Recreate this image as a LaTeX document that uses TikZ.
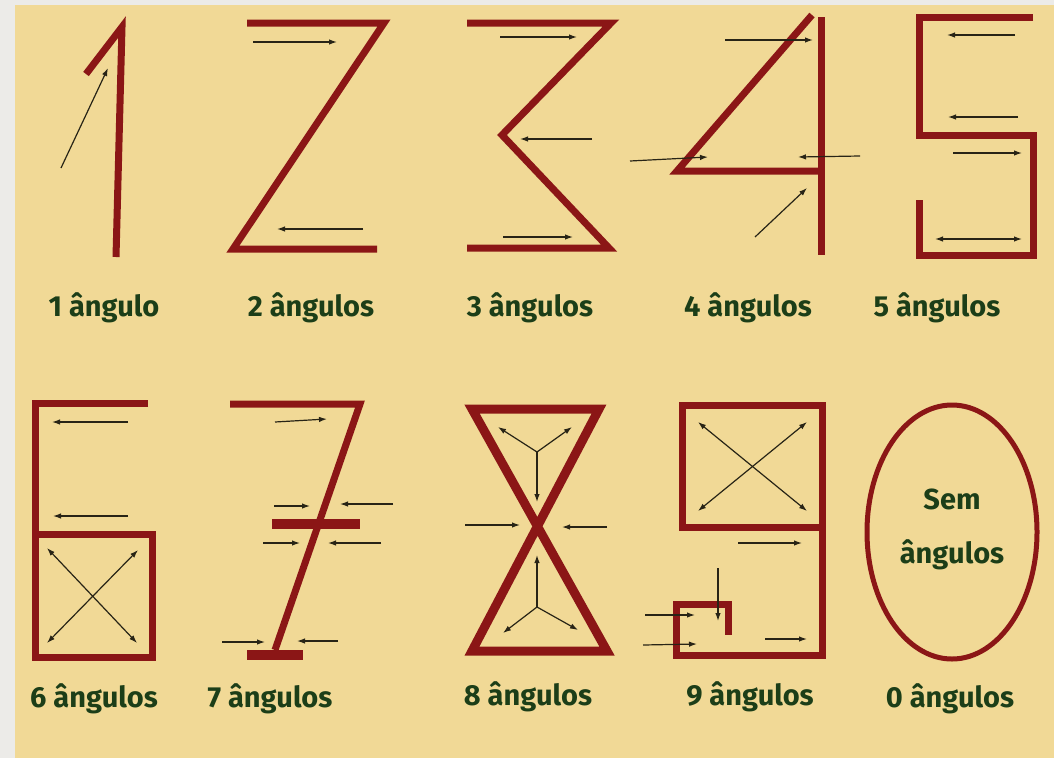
\documentclass[tikz,border=0pt]{standalone}
\usepackage{fontspec}
\setmainfont{Fira Sans}
\usetikzlibrary{arrows.meta}
\definecolor{bg}{RGB}{241,217,150}
\definecolor{edgecol}{RGB}{236,235,232}
\definecolor{digitred}{RGB}{139,22,22}
\definecolor{labgreen}{RGB}{28,62,24}
\definecolor{arrcol}{RGB}{40,36,22}
\tikzset{
  stroke/.style={draw=digitred, line width=7pt, line join=miter, line cap=butt},
  bar/.style={draw=digitred, line width=10pt, line cap=butt},
  arrowline/.style={draw=arrcol, line width=1.2pt, -{Latex[length=8pt,width=5.5pt]}},
  darrow/.style={draw=arrcol, line width=1.2pt, {Latex[length=8pt,width=5.5pt]}-{Latex[length=8pt,width=5.5pt]}},
  labeltext/.style={text=labgreen, font=\bfseries\fontsize{29}{32}\selectfont, anchor=base, inner sep=0pt},
}
\begin{document}
\begin{tikzpicture}[x=1pt,y=-1pt]
\useasboundingbox (0,0) rectangle (1054,758);
\fill[edgecol] (0,0) rectangle (1054,758);
\fill[bg] (15,5) rectangle (1054,758);

% ---------- digit 1 ----------
\draw[stroke] (86,74) -- (122,27) -- (116,257);
\coordinate (a1s) at (61,168); \coordinate (a1e) at (108,68);
\draw[arrowline] (a1s) -- (a1e);
\node[labeltext] (l1) at (104,316) {1 ângulo};

% ---------- digit 2 ----------
\draw[stroke] (247,23) -- (384,23) -- (233,249) -- (377,249);
\coordinate (a2as) at (253,42); \coordinate (a2ae) at (337,42);
\coordinate (a2bs) at (363,229); \coordinate (a2be) at (277,229);
\draw[arrowline] (a2as) -- (a2ae);
\draw[arrowline] (a2bs) -- (a2be);
\node[labeltext] (l2) at (311,316) {2 ângulos};

% ---------- digit 3 ----------
\draw[stroke] (467,23) -- (611,23) -- (502,135) -- (609,248) -- (467,248);
\coordinate (a3as) at (500,37); \coordinate (a3ae) at (577,37);
\coordinate (a3bs) at (592,139); \coordinate (a3be) at (520,139);
\coordinate (a3cs) at (503,237); \coordinate (a3ce) at (573,237);
\draw[arrowline] (a3as) -- (a3ae);
\draw[arrowline] (a3bs) -- (a3be);
\draw[arrowline] (a3cs) -- (a3ce);
\node[labeltext] (l3) at (530,316) {3 ângulos};

% ---------- digit 4 ----------
\draw[stroke] (812,15) -- (677,171) -- (821,171);
\draw[stroke] (821,17) -- (821,255);
\coordinate (a4as) at (725,40); \coordinate (a4ae) at (813,40);
\coordinate (a4bs) at (630,161); \coordinate (a4be) at (708,157);
\coordinate (a4cs) at (860,156); \coordinate (a4ce) at (798,157);
\coordinate (a4ds) at (755,237); \coordinate (a4de) at (807,188);
\draw[arrowline] (a4as) -- (a4ae);
\draw[arrowline] (a4bs) -- (a4be);
\draw[arrowline] (a4cs) -- (a4ce);
\draw[arrowline] (a4ds) -- (a4de);
\node[labeltext] (l4) at (748,316) {4 ângulos};

% ---------- digit 5 ----------
\draw[stroke] (1033,17) -- (919,17) -- (919,135) -- (1033,135) -- (1033,255) -- (919,255) -- (919,200);
\coordinate (a5as) at (1015,35); \coordinate (a5ae) at (947,35);
\coordinate (a5bs) at (1018,117); \coordinate (a5be) at (948,117);
\coordinate (a5cs) at (953,153); \coordinate (a5ce) at (1022,153);
\coordinate (a5ds) at (935,239); \coordinate (a5de) at (1022,239);
\draw[arrowline] (a5as) -- (a5ae);
\draw[arrowline] (a5bs) -- (a5be);
\draw[arrowline] (a5cs) -- (a5ce);
\draw[darrow] (a5ds) -- (a5de);
\node[labeltext] (l5) at (937,316) {5 ângulos};

% ---------- digit 6 ----------
\draw[stroke] (148,403) -- (35,403) -- (35,657) -- (152,657) -- (152,534) -- (35,534);
\coordinate (a6as) at (128,422); \coordinate (a6ae) at (52,422);
\coordinate (a6bs) at (128,516); \coordinate (a6be) at (53,516);
\coordinate (a6cs) at (47,548); \coordinate (a6ce) at (137,643);
\coordinate (a6ds) at (138,550); \coordinate (a6de) at (47,643);
\draw[arrowline] (a6as) -- (a6ae);
\draw[arrowline] (a6bs) -- (a6be);
\draw[darrow] (a6cs) -- (a6ce);
\draw[darrow] (a6ds) -- (a6de);
\node[labeltext] (l6) at (94,707) {6 ângulos};

% ---------- digit 7 ----------
\draw[stroke] (230,404) -- (360,404) -- (275,650);
\draw[bar] (272,524) -- (360,524);
\draw[bar] (247,655) -- (303,655);
\coordinate (a7as) at (275,422); \coordinate (a7ae) at (327,419);
\coordinate (a7bs) at (274,506); \coordinate (a7be) at (310,506);
\coordinate (a7cs) at (393,504); \coordinate (a7ce) at (340,504);
\coordinate (a7ds) at (263,543); \coordinate (a7de) at (300,543);
\coordinate (a7es) at (381,543); \coordinate (a7ee) at (328,543);
\coordinate (a7fs) at (222,642); \coordinate (a7fe) at (265,642);
\coordinate (a7gs) at (338,641); \coordinate (a7ge) at (297,641);
\draw[arrowline] (a7as) -- (a7ae);
\draw[arrowline] (a7bs) -- (a7be);
\draw[arrowline] (a7cs) -- (a7ce);
\draw[arrowline] (a7ds) -- (a7de);
\draw[arrowline] (a7es) -- (a7ee);
\draw[arrowline] (a7fs) -- (a7fe);
\draw[arrowline] (a7gs) -- (a7ge);
\node[labeltext] (l7) at (270,707) {7 ângulos};

% ---------- digit 8 ----------
\draw[stroke, line width=9pt] (472,409) -- (599,409) -- (472,651) -- (607,651) -- cycle;
\coordinate (y8a) at (537,452);
\coordinate (y8a1) at (498,427); \coordinate (y8a2) at (572,427); \coordinate (y8a3) at (537,502);
\coordinate (y8b) at (537,607);
\coordinate (y8b1) at (537,555); \coordinate (y8b2) at (503,633); \coordinate (y8b3) at (578,630);
\draw[arrowline] (y8a) -- (y8a1);
\draw[arrowline] (y8a) -- (y8a2);
\draw[arrowline] (y8a) -- (y8a3);
\draw[arrowline] (y8b) -- (y8b1);
\draw[arrowline] (y8b) -- (y8b2);
\draw[arrowline] (y8b) -- (y8b3);
\coordinate (a8as) at (465,525); \coordinate (a8ae) at (520,525);
\coordinate (a8bs) at (607,527); \coordinate (a8be) at (562,527);
\draw[arrowline] (a8as) -- (a8ae);
\draw[arrowline] (a8bs) -- (a8be);
\node[labeltext] (l8) at (528,705) {8 ângulos};

% ---------- digit 9 ----------
\draw[stroke] (822,527) -- (682,527) -- (682,405) -- (822,405) -- (822,655) -- (676,655) -- (676,604) -- (728,604) -- (728,635);
\coordinate (a9as) at (698,422); \coordinate (a9ae) at (807,511);
\coordinate (a9bs) at (807,422); \coordinate (a9be) at (698,511);
\draw[darrow] (a9as) -- (a9ae);
\draw[darrow] (a9bs) -- (a9be);
\coordinate (a9cs) at (738,543); \coordinate (a9ce) at (802,543);
\coordinate (a9ds) at (718,568); \coordinate (a9de) at (718,621);
\coordinate (a9es) at (645,615); \coordinate (a9ee) at (695,615);
\coordinate (a9fs) at (643,645); \coordinate (a9fe) at (697,644);
\coordinate (a9gs) at (765,639); \coordinate (a9ge) at (807,639);
\draw[arrowline] (a9cs) -- (a9ce);
\draw[arrowline] (a9ds) -- (a9de);
\draw[arrowline] (a9es) -- (a9ee);
\draw[arrowline] (a9fs) -- (a9fe);
\draw[arrowline] (a9gs) -- (a9ge);
\node[labeltext] (l9) at (750,705) {9 ângulos};

% ---------- digit 0 ----------
\draw[draw=digitred, line width=5pt] (952,532) ellipse [x radius=85, y radius=127];
\node[labeltext] (sem) at (952,509) {Sem};
\node[labeltext] (semang) at (952,563) {ângulos};
\node[labeltext] (l0) at (950,707) {0 ângulos};
\end{tikzpicture}
\end{document}
